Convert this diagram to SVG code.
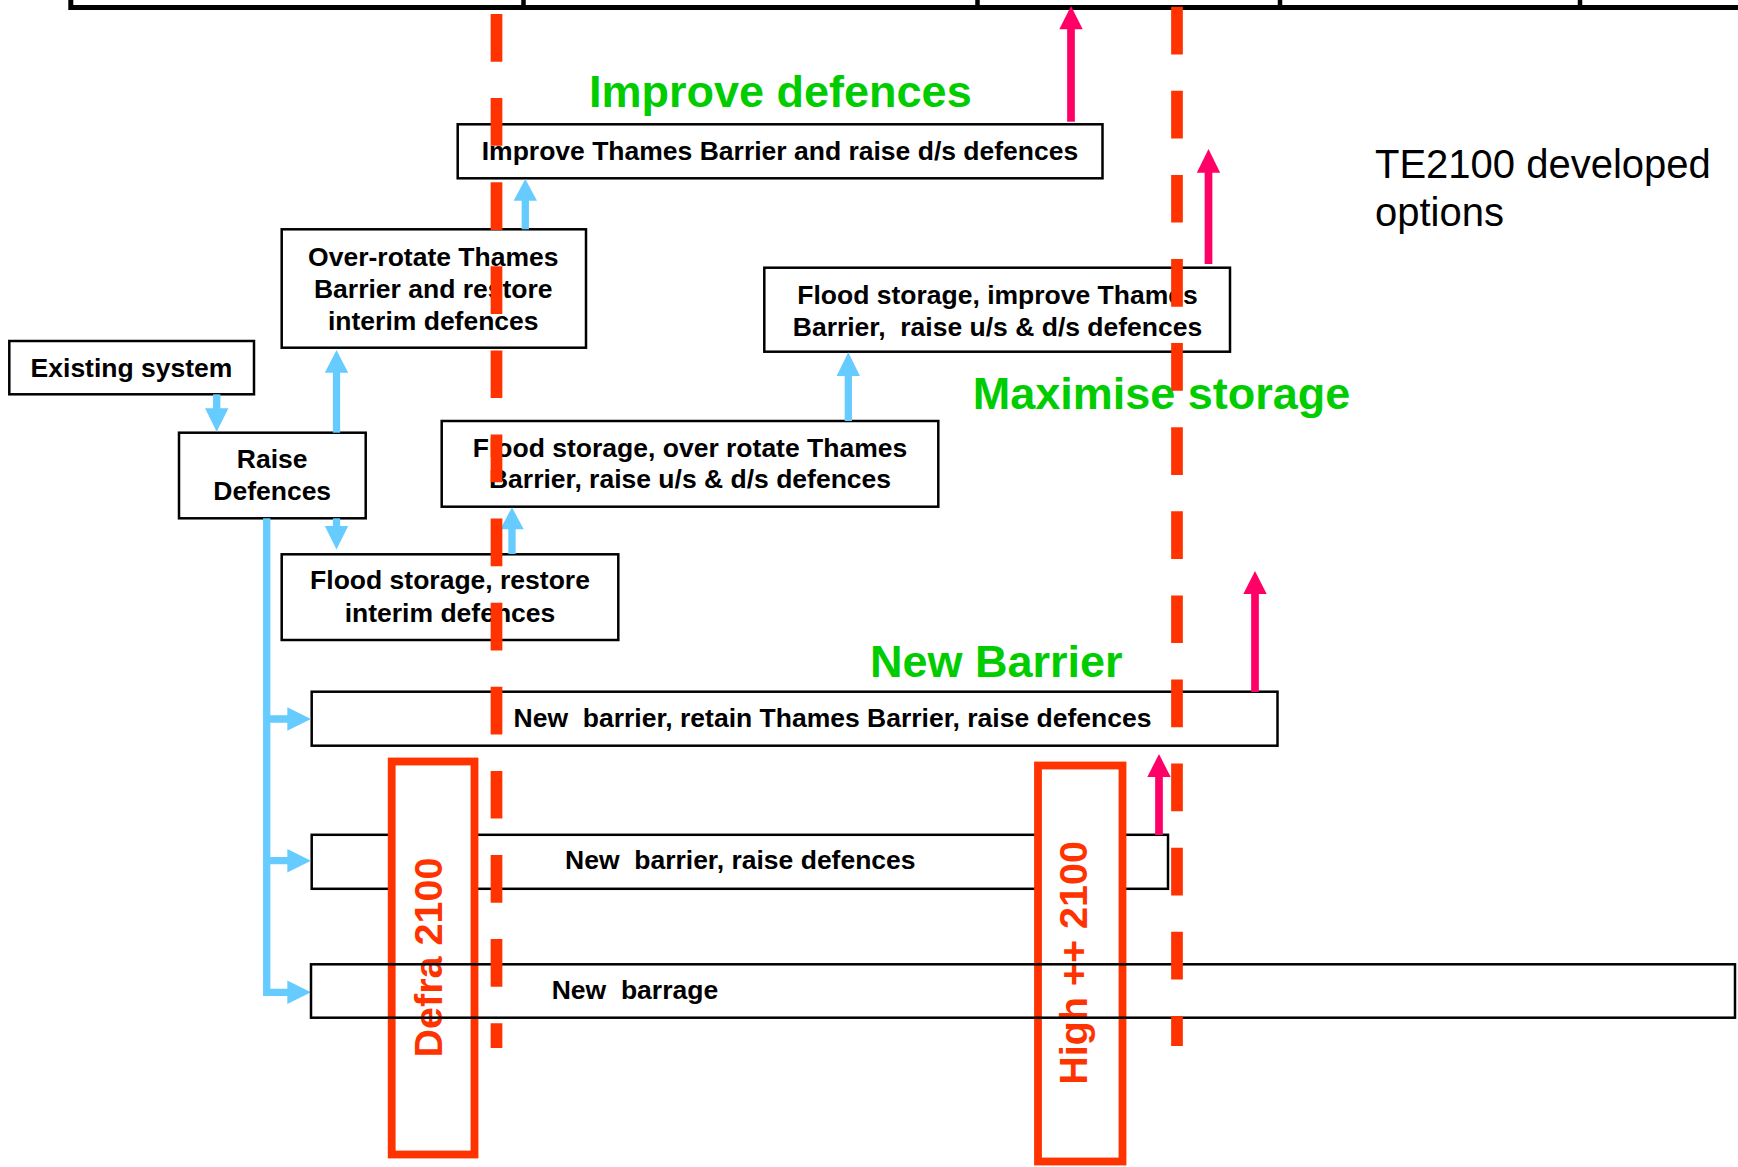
<svg xmlns="http://www.w3.org/2000/svg" width="1738" height="1167" viewBox="0 0 1738 1167">
<style>
.box{fill:#fff;stroke:#000;stroke-width:2.5}
.boxn{fill:none;stroke:#000;stroke-width:2.5}
.t{font-family:"Liberation Sans",Arial,sans-serif;font-weight:bold;font-size:26.5px;fill:#000}
.g{font-family:"Liberation Sans",Arial,sans-serif;font-weight:bold;font-size:45px;fill:#00CC00}
.r{font-family:"Liberation Sans",Arial,sans-serif;font-weight:bold;font-size:39.5px;fill:#FF3300}
.plain{font-family:"Liberation Sans",Arial,sans-serif;font-size:40px;fill:#000}
.bl{stroke:#66CCFF;stroke-width:7.3;fill:none}
.blh{fill:#66CCFF}
.pk{stroke:#FF0066;stroke-width:7.7;fill:none}
.pkh{fill:#FF0066}
.rr{fill:#fff;stroke:#FF3300;stroke-width:7.8}
.dash{stroke:#FF3300;stroke-width:11.7;stroke-dasharray:47.7 36.4;fill:none}
</style>
<rect width="1738" height="1167" fill="#fff"/>
<g id="frame" stroke="#000" fill="none">
<path d="M70.8,-10 V7.5 H1745" stroke-width="5"/>
<path d="M523.5,-10 V7.5 M977.5,-10 V7.5 M1280,-10 V7.5 M1580,-10 V7.5" stroke-width="4.5"/>
</g>
<g id="existing-system">
<rect class="box" x="9.3" y="341" width="244.7" height="53.3"/>
<text class="t" x="131.5" y="376.7" text-anchor="middle">Existing system</text>
</g>
<g id="raise-defences">
<rect class="box" x="179" y="432.7" width="186.7" height="85.6"/>
<text class="t" x="272.2" y="468.3" text-anchor="middle">Raise</text>
<text class="t" x="272.2" y="500" text-anchor="middle">Defences</text>
</g>
<g id="over-rotate">
<rect class="box" x="281.7" y="229.3" width="304.3" height="118.4"/>
<text class="t" x="433.3" y="265.7" text-anchor="middle">Over-rotate Thames</text>
<text class="t" x="433.3" y="297.7" text-anchor="middle">Barrier and restore</text>
<text class="t" x="433.3" y="330" text-anchor="middle">interim defences</text>
</g>
<g id="improve-thames">
<rect class="box" x="457.7" y="124.3" width="644.8" height="54"/>
<text class="t" x="780" y="160" text-anchor="middle">Improve Thames Barrier and raise d/s defences</text>
</g>
<g id="flood-improve">
<rect class="box" x="764.3" y="267.7" width="465.7" height="84"/>
<text class="t" x="997.5" y="304" text-anchor="middle">Flood storage, improve Thames</text>
<text class="t" x="997.5" y="335.7" text-anchor="middle" xml:space="preserve">Barrier,  raise u/s &amp; d/s defences</text>
</g>
<g id="flood-over-rotate">
<rect class="box" x="441.7" y="421" width="496.6" height="85.7"/>
<text class="t" x="690" y="456.7" text-anchor="middle">Flood storage, over rotate Thames</text>
<text class="t" x="690" y="488.3" text-anchor="middle">Barrier, raise u/s &amp; d/s defences</text>
</g>
<g id="flood-restore">
<rect class="box" x="281.7" y="554.3" width="336.6" height="85.7"/>
<text class="t" x="450" y="589" text-anchor="middle">Flood storage, restore</text>
<text class="t" x="450" y="621.7" text-anchor="middle">interim defences</text>
</g>
<g id="new-barrier-retain">
<rect class="box" x="311.7" y="691.7" width="965.8" height="54"/>
<text class="t" x="513.6" y="727.3" xml:space="preserve">New  barrier, retain Thames Barrier, raise defences</text>
</g>
<g id="new-barrier-raise">
<rect class="box" x="311.7" y="834.8" width="856.3" height="54"/>
<text class="t" x="565" y="869.3" xml:space="preserve">New  barrier, raise defences</text>
</g>
<g id="connectors">
<path class="bl" d="M216.7,394.3 V410"/>
<polygon class="blh" points="205,408.3 228.4,408.3 216.7,431.7"/>
<path class="bl" d="M336.5,432.7 V371"/>
<polygon class="blh" points="324.8,372.7 348.2,372.7 336.5,350"/>
<path class="bl" d="M336.5,518.3 V528"/>
<polygon class="blh" points="324.8,526 348.2,526 336.5,549.5"/>
<path class="bl" d="M512,554 V528"/>
<polygon class="blh" points="500.3,529.3 523.7,529.3 512,507.3"/>
<path class="bl" d="M525.3,229.3 V199"/>
<polygon class="blh" points="513.6,200.7 537,200.7 525.3,179"/>
<path class="bl" d="M848.3,421 V374"/>
<polygon class="blh" points="836.6,376 860,376 848.3,352.3"/>
<path class="bl" d="M266.7,518.3 V992.3 H289 M266.7,719 H289 M266.7,860.7 H289"/>
<polygon class="blh" points="287.3,707.3 287.3,730.7 311,719"/>
<polygon class="blh" points="287.3,849 287.3,872.4 311,860.7"/>
<polygon class="blh" points="287.3,980.6 287.3,1004 311,992.3"/>
<path class="pk" d="M1071,121.7 V28"/>
<polygon class="pkh" points="1059.3,29.3 1082.7,29.3 1071,6"/>
<path class="pk" d="M1208.5,264 V171"/>
<polygon class="pkh" points="1196.8,172.7 1220.2,172.7 1208.5,149"/>
<path class="pk" d="M1255,692 V592"/>
<polygon class="pkh" points="1243.3,594 1266.7,594 1255,571"/>
<path class="pk" d="M1159,835 V775"/>
<polygon class="pkh" points="1147.3,777 1170.7,777 1159,754"/>
</g>
<g id="labels">
<text class="g" x="589" y="106.7">Improve defences</text>
<text class="g" x="972.7" y="409.3">Maximise storage</text>
<text class="g" x="870" y="676.7">New Barrier</text>
<text class="plain" x="1375" y="177.7">TE2100 developed</text>
<text class="plain" x="1375" y="225.7">options</text>
</g>
<g id="defra-2100">
<rect class="rr" x="391.7" y="761.5" width="82.8" height="393"/>
<text class="r" transform="translate(441.7,957.5) rotate(-90)" text-anchor="middle">Defra 2100</text>
</g>
<g id="high-2100">
<rect class="rr" x="1038" y="765.5" width="84.5" height="396"/>
<text class="r" transform="translate(1087,963) rotate(-90)" text-anchor="middle">High ++ 2100</text>
</g>
<g id="new-barrage">
<rect class="boxn" x="311" y="964.3" width="1424" height="53.4"/>
<text class="t" x="551.7" y="999.3" xml:space="preserve">New  barrage</text>
</g>
<g id="dashed-lines">
<path class="dash" d="M496.5,14 V1048"/>
<path class="dash" d="M1177,6.7 V1046"/>
</g>
</svg>
